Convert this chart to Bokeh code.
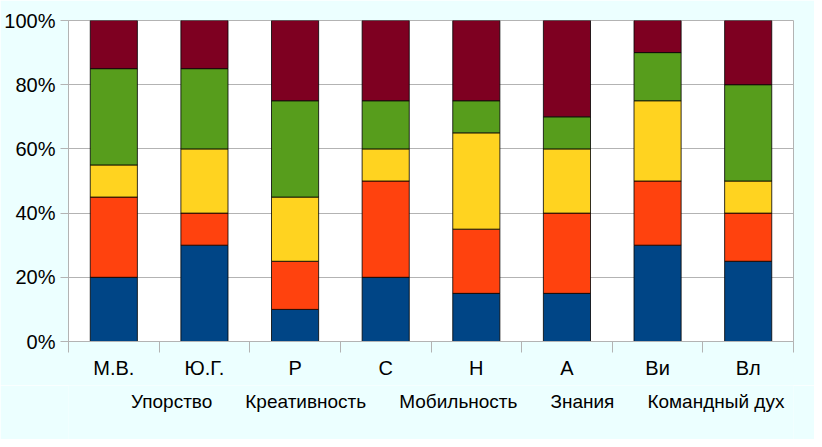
from bokeh.plotting import figure
from bokeh.layouts import column
from bokeh.models import ColumnDataSource, FixedTicker, NumeralTickFormatter, Legend, LegendItem, Range1d, LinearAxis
from bokeh.embed import file_html
from bokeh.resources import INLINE

categories = ["М.В.", "Ю.Г.", "Р", "С", "Н", "А", "Ви", "Вл"]
series = ["Упорство", "Креативность", "Мобильность", "Знания", "Командный дух"]
upor = [20, 30, 10, 20, 15, 15, 30, 25]
kreat = [25, 10, 15, 30, 20, 25, 20, 15]
mobil = [10, 20, 20, 10, 30, 20, 25, 10]
znan = [30, 25, 30, 15, 10, 10, 15, 30]
komand = [15, 15, 25, 25, 25, 30, 10, 20]
colors = ["#004586", "#ff420e", "#ffd320", "#579d1c", "#7e0021"]
y_ticks = [0, 0.2, 0.4, 0.6, 0.8, 1.0]

n = len(categories)
xs = list(range(n))
data = {"x": xs}
for name, vals in zip(series, [upor, kreat, mobil, znan, komand]):
    data[name] = [v / 100 for v in vals]
source = ColumnDataSource(data)

FONT = "Liberation Sans"
bg = "#ecffff"
p = figure(width=814, height=385,
           output_backend="svg", toolbar_location=None,
           x_range=Range1d(-0.5, n - 0.5), y_range=Range1d(0, 1),
           background_fill_color="white", border_fill_color=bg,
           min_border_left=68, min_border_right=21, min_border_top=20,
           min_border_bottom=44, x_axis_type=None)
p.outline_line_color = "#b3b3b3"

rs = p.vbar_stack(series, x="x", width=0.52, source=source, color=colors,
                  line_color="black", line_width=0.8)

# x axis: labels at bar centers, tick marks at category boundaries
xa = LinearAxis(ticker=FixedTicker(ticks=xs, minor_ticks=[i - 0.5 for i in range(n + 1)]),
                major_label_overrides={i: c for i, c in enumerate(categories)})
xa.major_tick_line_color = None
xa.major_tick_out = 0
xa.major_tick_in = 0
xa.minor_tick_out = 11
xa.minor_tick_in = 0
xa.minor_tick_line_color = "#b3b3b3"
xa.axis_line_color = "#b3b3b3"
xa.major_label_text_font = FONT
xa.major_label_text_font_size = "20px"
xa.major_label_text_color = "black"
xa.major_label_standoff = 4
p.add_layout(xa, "below")

ya = p.yaxis[0]
ya.ticker = FixedTicker(ticks=y_ticks)
ya.formatter = NumeralTickFormatter(format="0%")
ya.major_tick_out = 8
ya.major_tick_in = 0
ya.minor_tick_line_color = None
ya.major_tick_line_color = "#b3b3b3"
ya.axis_line_color = "#b3b3b3"
ya.major_label_text_font = FONT
ya.major_label_text_font_size = "20px"
ya.major_label_text_color = "black"
ya.major_label_standoff = 5

p.xgrid.visible = False
p.ygrid.ticker = FixedTicker(ticks=y_ticks)
p.ygrid.grid_line_color = "#b3b3b3"

# legend strip: a second figure whose swatches come from empty copies of the bar renderers
empty = ColumnDataSource({k: [] for k in data})
pl = figure(width=814, height=54, output_backend="svg", toolbar_location=None,
            x_range=Range1d(0, 1), y_range=Range1d(0, 1),
            background_fill_color=bg, border_fill_color=bg,
            min_border_left=0, min_border_right=0, min_border_top=0, min_border_bottom=0,
            x_axis_type=None, y_axis_type=None)
pl.outline_line_color = None
pl.grid.visible = False
rl = pl.vbar_stack(series, x="x", width=0.52, source=empty, color=colors,
                   line_color="black", line_width=0.8)

legend = Legend(items=[LegendItem(label=s, renderers=[r]) for s, r in zip(series, rl)],
                orientation="horizontal", location=(42, 26),
                label_text_font=FONT, label_text_font_size="19px",
                label_text_color="black", glyph_width=15, glyph_height=15,
                label_standoff=6, spacing=12, padding=0, margin=0,
                background_fill_alpha=0, border_line_color=None)
pl.add_layout(legend, "center")

layout = column(p, pl, spacing=0)
open("out.html", "w").write(file_html(layout, INLINE))
